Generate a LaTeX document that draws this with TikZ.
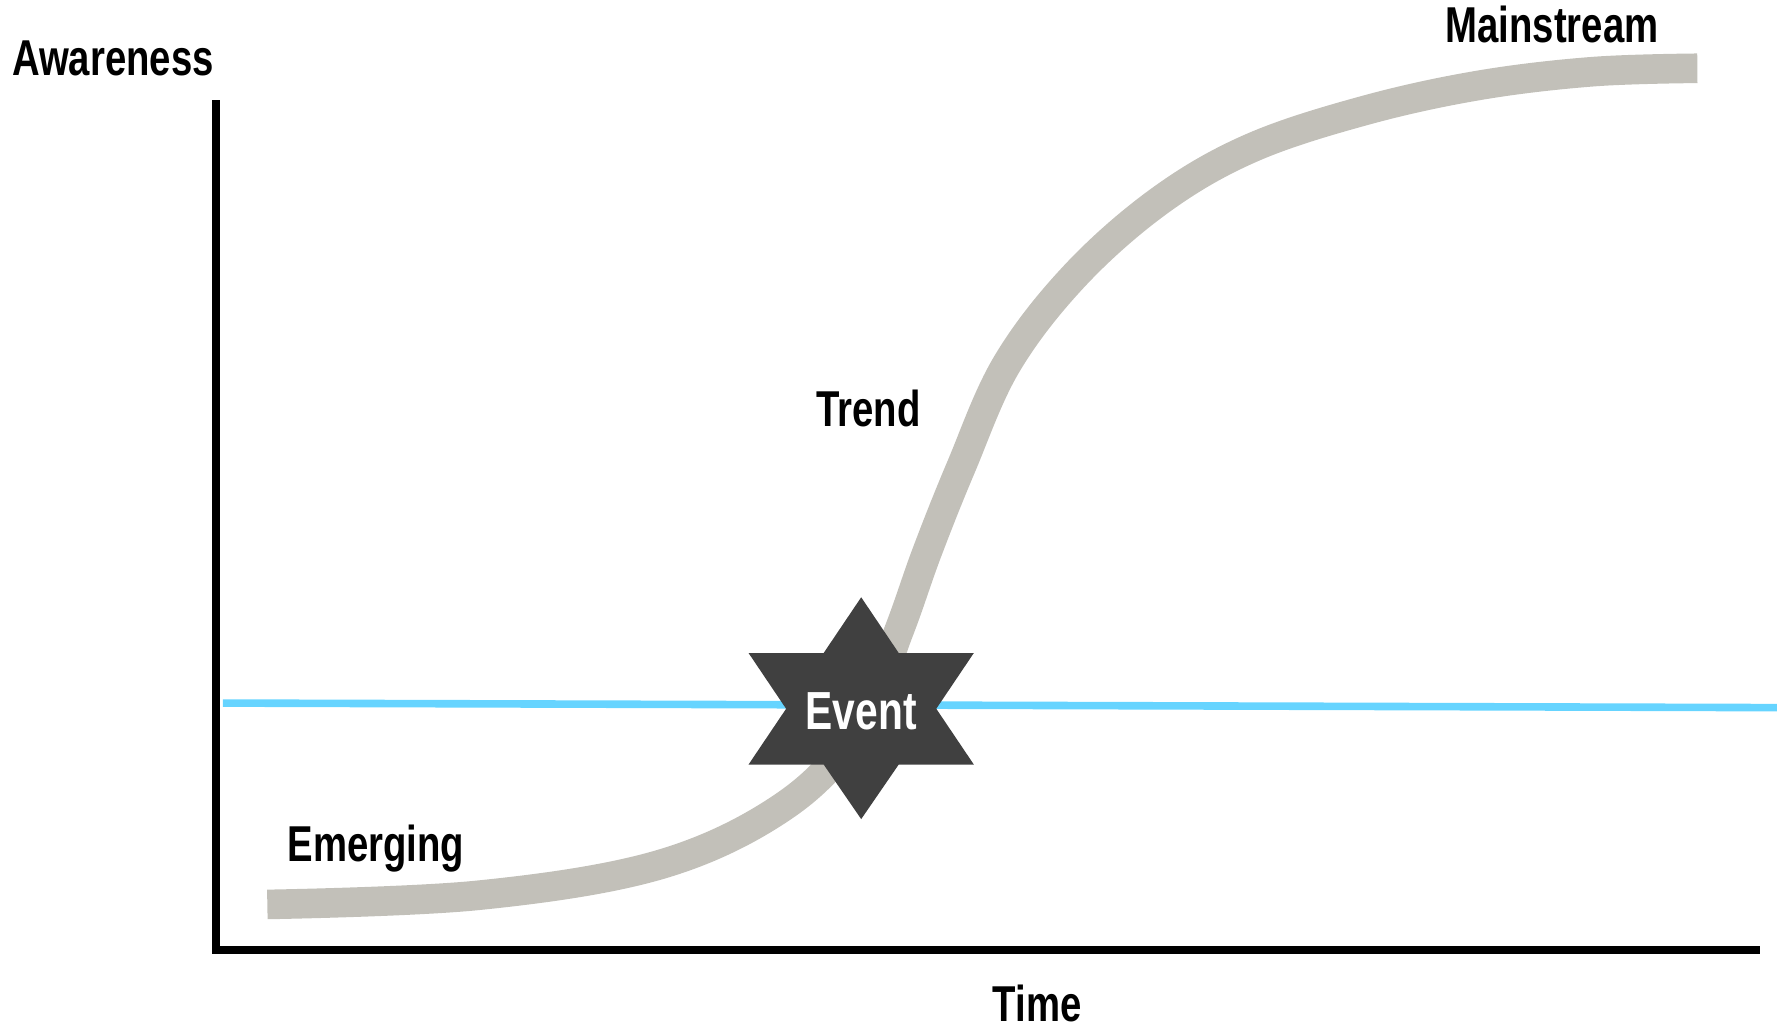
\documentclass[tikz,border=0pt]{standalone}
\usepackage{fontspec}
\setmainfont{Liberation Sans}[FakeStretch=0.76]
\definecolor{curvegray}{HTML}{C2C0B9}
\definecolor{lineblue}{HTML}{66D4FF}
\definecolor{stardark}{HTML}{404040}
\tikzset{
  lbl/.style={inner sep=0pt, font=\bfseries\fontsize{12.6}{14}\selectfont, text=black},
  evlbl/.style={inner sep=0pt, font=\bfseries\fontsize{13.4}{15}\selectfont, text=white},
  axisline/.style={line width=2pt, black},
  scurve/.style={line width=7.4pt, curvegray, line cap=butt},
  eventline/.style={line width=1.9pt, lineblue},
  starshape/.style={fill=stardark, draw=none}
}
\begin{document}
\begin{tikzpicture}[x=0.01cm, y=-0.01cm]
\useasboundingbox (0,0) rectangle (1562,902);
% curve
\draw[scurve] plot[smooth, tension=0.6] coordinates {
 (235,795) (420,787) (580,760) (690,708) (755,640) (790,555)
 (815,485) (845,410) (885,320) (945,242) (1020,176) (1100,130)
 (1200,97) (1300,75) (1400,63) (1492,60)};
% blue line
\coordinate (bl) at (196,618);
\coordinate (br) at (1562,622);
\draw[eventline] (bl) -- (br);
% axes
\coordinate (ytop) at (190,88);
\coordinate (org) at (190,835);
\coordinate (xend) at (1547,835);
\draw[axisline] (ytop) -- (org) -- (xend);
% star
\coordinate (sc) at (757,623);
\fill[starshape] (757,525) -- (790,574) -- (856,574) -- (823,623) -- (856,672)
  -- (790,672) -- (757,720) -- (724,672) -- (658,672) -- (691,623)
  -- (658,574) -- (724,574) -- cycle;
\node[evlbl] (ev) at (757,625) {Event};
% labels
\node[lbl, anchor=base west] (aw) at (10,66) {Awareness};
\node[lbl, anchor=base west] (ms) at (1270,37) {Mainstream};
\node[lbl, anchor=base west] (tr) at (717,375) {Trend};
\node[lbl, anchor=base west] (em) at (252,757) {Emerging};
\node[lbl, anchor=base west] (tm) at (872,898) {Time};
\end{tikzpicture}
\end{document}
